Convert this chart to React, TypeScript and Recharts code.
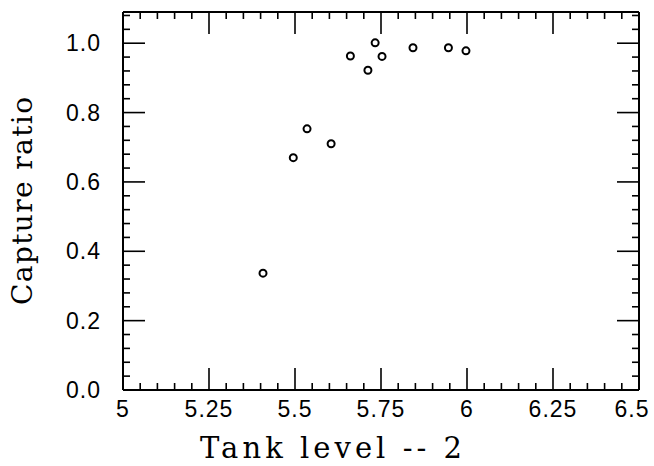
import React from "react";
import { ScatterChart, Scatter, XAxis, YAxis, Label } from "recharts";

const tankLevel = [5.407, 5.495, 5.535, 5.605, 5.661, 5.712, 5.733, 5.753, 5.843, 5.946, 5.997];
const captureRatio = [0.337, 0.67, 0.753, 0.71, 0.963, 0.922, 1.001, 0.962, 0.987, 0.987, 0.978];

const xMajor = [5, 5.25, 5.5, 5.75, 6, 6.25, 6.5];
const xMajorLabels = ["5", "5.25", "5.5", "5.75", "6", "6.25", "6.5"];
const xMinor = [
  5.05, 5.1, 5.15, 5.2, 5.3, 5.35, 5.4, 5.45, 5.55, 5.6, 5.65, 5.7,
  5.8, 5.85, 5.9, 5.95, 6.05, 6.1, 6.15, 6.2, 6.3, 6.35, 6.4, 6.45,
];
const yMajor = [0, 0.2, 0.4, 0.6, 0.8, 1.0];
const yMajorLabels = ["0.0", "0.2", "0.4", "0.6", "0.8", "1.0"];
const yMinor = [
  0.04, 0.08, 0.12, 0.16, 0.24, 0.28, 0.32, 0.36, 0.44, 0.48, 0.52, 0.56,
  0.64, 0.68, 0.72, 0.76, 0.84, 0.88, 0.92, 0.96, 1.04, 1.08,
];

const data = tankLevel.map((x, i) => ({ x, y: captureRatio[i] }));

const MAJOR = 22;
const MINOR = 7;
const TICK_FONT = "'Liberation Sans', Arial, sans-serif";
const TITLE_FONT = "'DejaVu Serif', serif";

const majorIndex = (list: number[], v: number) =>
  list.findIndex((m) => Math.abs(m - v) < 1e-6);

const BottomTick = (props: any) => {
  const { x, y, payload } = props;
  const i = majorIndex(xMajor, payload.value);
  const len = i >= 0 ? MAJOR : MINOR;
  // last label is pulled in so it stays inside the picture
  const lx = i === xMajor.length - 1 ? x - 7 : x;
  return (
    <g>
      <line x1={x} y1={y} x2={x} y2={y - len} stroke="#000" strokeWidth={1.6} />
      {i >= 0 && (
        <text x={lx} y={y + 27} textAnchor="middle" fontSize={23} fontFamily={TICK_FONT} letterSpacing={1} fill="#000">
          {xMajorLabels[i]}
        </text>
      )}
    </g>
  );
};

const TopTick = (props: any) => {
  const { x, y, payload } = props;
  const len = majorIndex(xMajor, payload.value) >= 0 ? MAJOR : MINOR;
  return <line x1={x} y1={y} x2={x} y2={y + len} stroke="#000" strokeWidth={1.6} />;
};

const LeftTick = (props: any) => {
  const { x, y, payload } = props;
  const i = majorIndex(yMajor, payload.value);
  const len = i >= 0 ? MAJOR : MINOR;
  return (
    <g>
      <line x1={x} y1={y} x2={x + len} y2={y} stroke="#000" strokeWidth={1.6} />
      {i >= 0 && (
        <text x={x - 22} y={y + 8} textAnchor="end" fontSize={23} fontFamily={TICK_FONT} letterSpacing={1} fill="#000">
          {yMajorLabels[i]}
        </text>
      )}
    </g>
  );
};

const RightTick = (props: any) => {
  const { x, y, payload } = props;
  const len = majorIndex(yMajor, payload.value) >= 0 ? MAJOR : MINOR;
  return <line x1={x} y1={y} x2={x - len} y2={y} stroke="#000" strokeWidth={1.6} />;
};

const Ring = (props: any) => (
  <circle cx={props.cx} cy={props.cy} r={3.5} fill="none" stroke="#000" strokeWidth={2} />
);

const App: React.FC = () => {
  return (
    <div style={{ position: "absolute", left: 0, top: 0, width: 654, height: 466, background: "#fff" }}>
      <ScatterChart width={654} height={466} margin={{ top: 11, right: 14, bottom: 0, left: 0 }}>
        <XAxis
          xAxisId="b"
          type="number"
          dataKey="x"
          domain={[5, 6.5]}
          allowDataOverflow
          ticks={[...xMajor, ...xMinor]}
          interval={0}
          height={76}
          tickSize={0}
          tickMargin={0}
          tickLine={false}
          tick={<BottomTick />}
          axisLine={{ stroke: "#000", strokeWidth: 2 }}
        >
          <Label
            content={(p: any) => {
              const vb = p.viewBox;
              return (
                <text
                  x={vb.x + vb.width / 2 - 50}
                  y={vb.y + 68}
                  textAnchor="middle"
                  fontSize={29}
                  fontFamily={TITLE_FONT}
                  textLength={262}
                  lengthAdjust="spacing"
                  fill="#000"
                >
                  Tank level -- 2
                </text>
              );
            }}
          />
        </XAxis>
        <XAxis
          xAxisId="t"
          orientation="top"
          type="number"
          dataKey="x"
          domain={[5, 6.5]}
          allowDataOverflow
          ticks={[...xMajor, ...xMinor]}
          interval={0}
          height={1}
          tickSize={0}
          tickMargin={0}
          tickLine={false}
          tick={<TopTick />}
          axisLine={{ stroke: "#000", strokeWidth: 2 }}
        />
        <YAxis
          yAxisId="l"
          type="number"
          dataKey="y"
          domain={[0, 1.09]}
          allowDataOverflow
          ticks={[...yMajor, ...yMinor]}
          interval={0}
          width={123}
          tickSize={0}
          tickMargin={0}
          tickLine={false}
          tick={<LeftTick />}
          axisLine={{ stroke: "#000", strokeWidth: 2 }}
        >
          <Label
            content={(p: any) => {
              const vb = p.viewBox;
              const cy = vb.y + vb.height / 2;
              return (
                <text
                  x={22}
                  y={cy}
                  transform={`rotate(-90 22 ${cy})`}
                  textAnchor="middle"
                  dominantBaseline="central"
                  fontSize={28}
                  fontFamily={TITLE_FONT}
                  textLength={208}
                  lengthAdjust="spacing"
                  fill="#000"
                >
                  Capture ratio
                </text>
              );
            }}
          />
        </YAxis>
        <YAxis
          yAxisId="r"
          orientation="right"
          type="number"
          dataKey="y"
          domain={[0, 1.09]}
          allowDataOverflow
          ticks={[...yMajor, ...yMinor]}
          interval={0}
          width={1}
          tickSize={0}
          tickMargin={0}
          tickLine={false}
          tick={<RightTick />}
          axisLine={{ stroke: "#000", strokeWidth: 2 }}
        />
        <Scatter data={data} xAxisId="b" yAxisId="l" shape={<Ring />} isAnimationActive={false} />
        <Scatter data={data} xAxisId="t" yAxisId="r" shape={() => <g />} isAnimationActive={false} />
      </ScatterChart>
    </div>
  );
};

export default App;
